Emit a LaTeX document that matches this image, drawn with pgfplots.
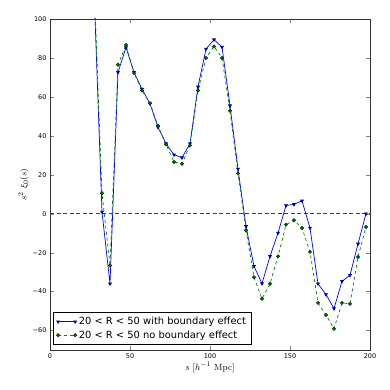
\documentclass[border=0pt]{standalone}
\usepackage[no-math]{fontspec}
\setmainfont{DejaVu Sans}
\usepackage{pgfplots}
\pgfplotsset{compat=1.18}
\definecolor{mplblue}{rgb}{0,0,1}
\definecolor{mplgreen}{rgb}{0,0.5,0}
\begin{document}
\begin{tikzpicture}
\begin{axis}[
    scale only axis,
    width=320pt, height=331pt,
    xmin=0, xmax=200, ymin=-70, ymax=100,
    xtick={0,50,100,150,200},
    ytick={-60,-40,-20,0,20,40,60,80,100},
    yticklabels={−60,−40,−20,0,20,40,60,80,100},
    tick align=inside, tick pos=both,
    major tick length=4pt,
    tick label style={font=\fontsize{6.5}{7.5}\selectfont},
    /pgf/number format/assume math mode=true,
    axis line style={black!80, line width=0.6pt},
    xlabel={$s\ [h^{-1}\ \mathrm{Mpc}]$},
    ylabel={$s^2\ \xi_0(s)$},
    label style={font=\fontsize{9.3}{10}\selectfont},
    xlabel style={yshift=3pt},
    ylabel style={yshift=-3pt},
    legend style={font=\fontsize{9.9}{11.5}\selectfont, draw=black, line width=0.6pt,
                  at={(0.01,0.015)}, anchor=south west,
                  inner xsep=3pt, inner ysep=3pt, row sep=0.5pt},
    legend cell align=left,
    legend image code/.code={
        \draw[#1] plot coordinates {(0cm,0cm) (0.6cm,0cm)};
    },
]
\addplot[black!75, dash pattern=on 4pt off 2.5pt, line width=0.6pt, forget plot] coordinates {(0,0) (200,0)};
\addplot[mplblue, solid, line width=0.7pt,
         mark=triangle*, mark size=1.6pt,
         mark options={rotate=180, solid, fill=mplblue, draw=black!40!mplblue}]
coordinates {
    (27.5,115) (32.5,0.9) (37.5,-36.0) (42.5,72.6) (47.5,85.4) (52.5,72.6)
    (57.5,64.0) (62.5,56.5) (67.5,44.4) (72.5,36.0) (77.5,30.3) (82.5,28.8)
    (87.5,36.0) (92.5,65.2) (97.5,84.6) (102.5,89.4) (107.5,85.6) (112.5,55.5)
    (117.5,23.0) (122.5,-6.5) (127.5,-27.0) (132.5,-35.9) (137.5,-21.9) (142.5,-9.9)
    (147.5,4.2) (152.5,4.8) (157.5,6.6) (162.5,-7.3) (167.5,-36.0) (172.5,-41.5)
    (177.5,-48.7) (182.5,-34.7) (187.5,-31.6) (192.5,-15.5) (197.5,0.0)
};
\addlegendentry{20 < R < 50 with boundary effect}
\addplot[mplgreen, dashed, line width=0.7pt,
         mark=*, mark size=1.6pt,
         mark options={solid, fill=mplgreen, draw=black!50!mplgreen}]
coordinates {
    (27.5,120) (32.5,10.5) (37.5,-26.6) (42.5,76.5) (47.5,86.6) (52.5,72.2)
    (57.5,63.3) (62.5,56.7) (67.5,45.2) (72.5,35.7) (77.5,26.6) (82.5,25.7)
    (87.5,35.1) (92.5,63.3) (97.5,80.0) (102.5,85.9) (107.5,80.0) (112.5,52.9)
    (117.5,20.7) (122.5,-8.5) (127.5,-32.6) (132.5,-43.7) (137.5,-36.0) (142.5,-21.9)
    (147.5,-5.6) (152.5,-3.4) (157.5,-7.3) (162.5,-19.6) (167.5,-45.8) (172.5,-52.0)
    (177.5,-59.1) (182.5,-45.8) (187.5,-46.3) (192.5,-22.2) (197.5,-6.8)
};
\addlegendentry{20 < R < 50 no boundary effect}
\end{axis}
\path (current axis.south west) ++(-50pt,-40pt) rectangle ++(390pt,390pt);
\end{tikzpicture}
\end{document}
